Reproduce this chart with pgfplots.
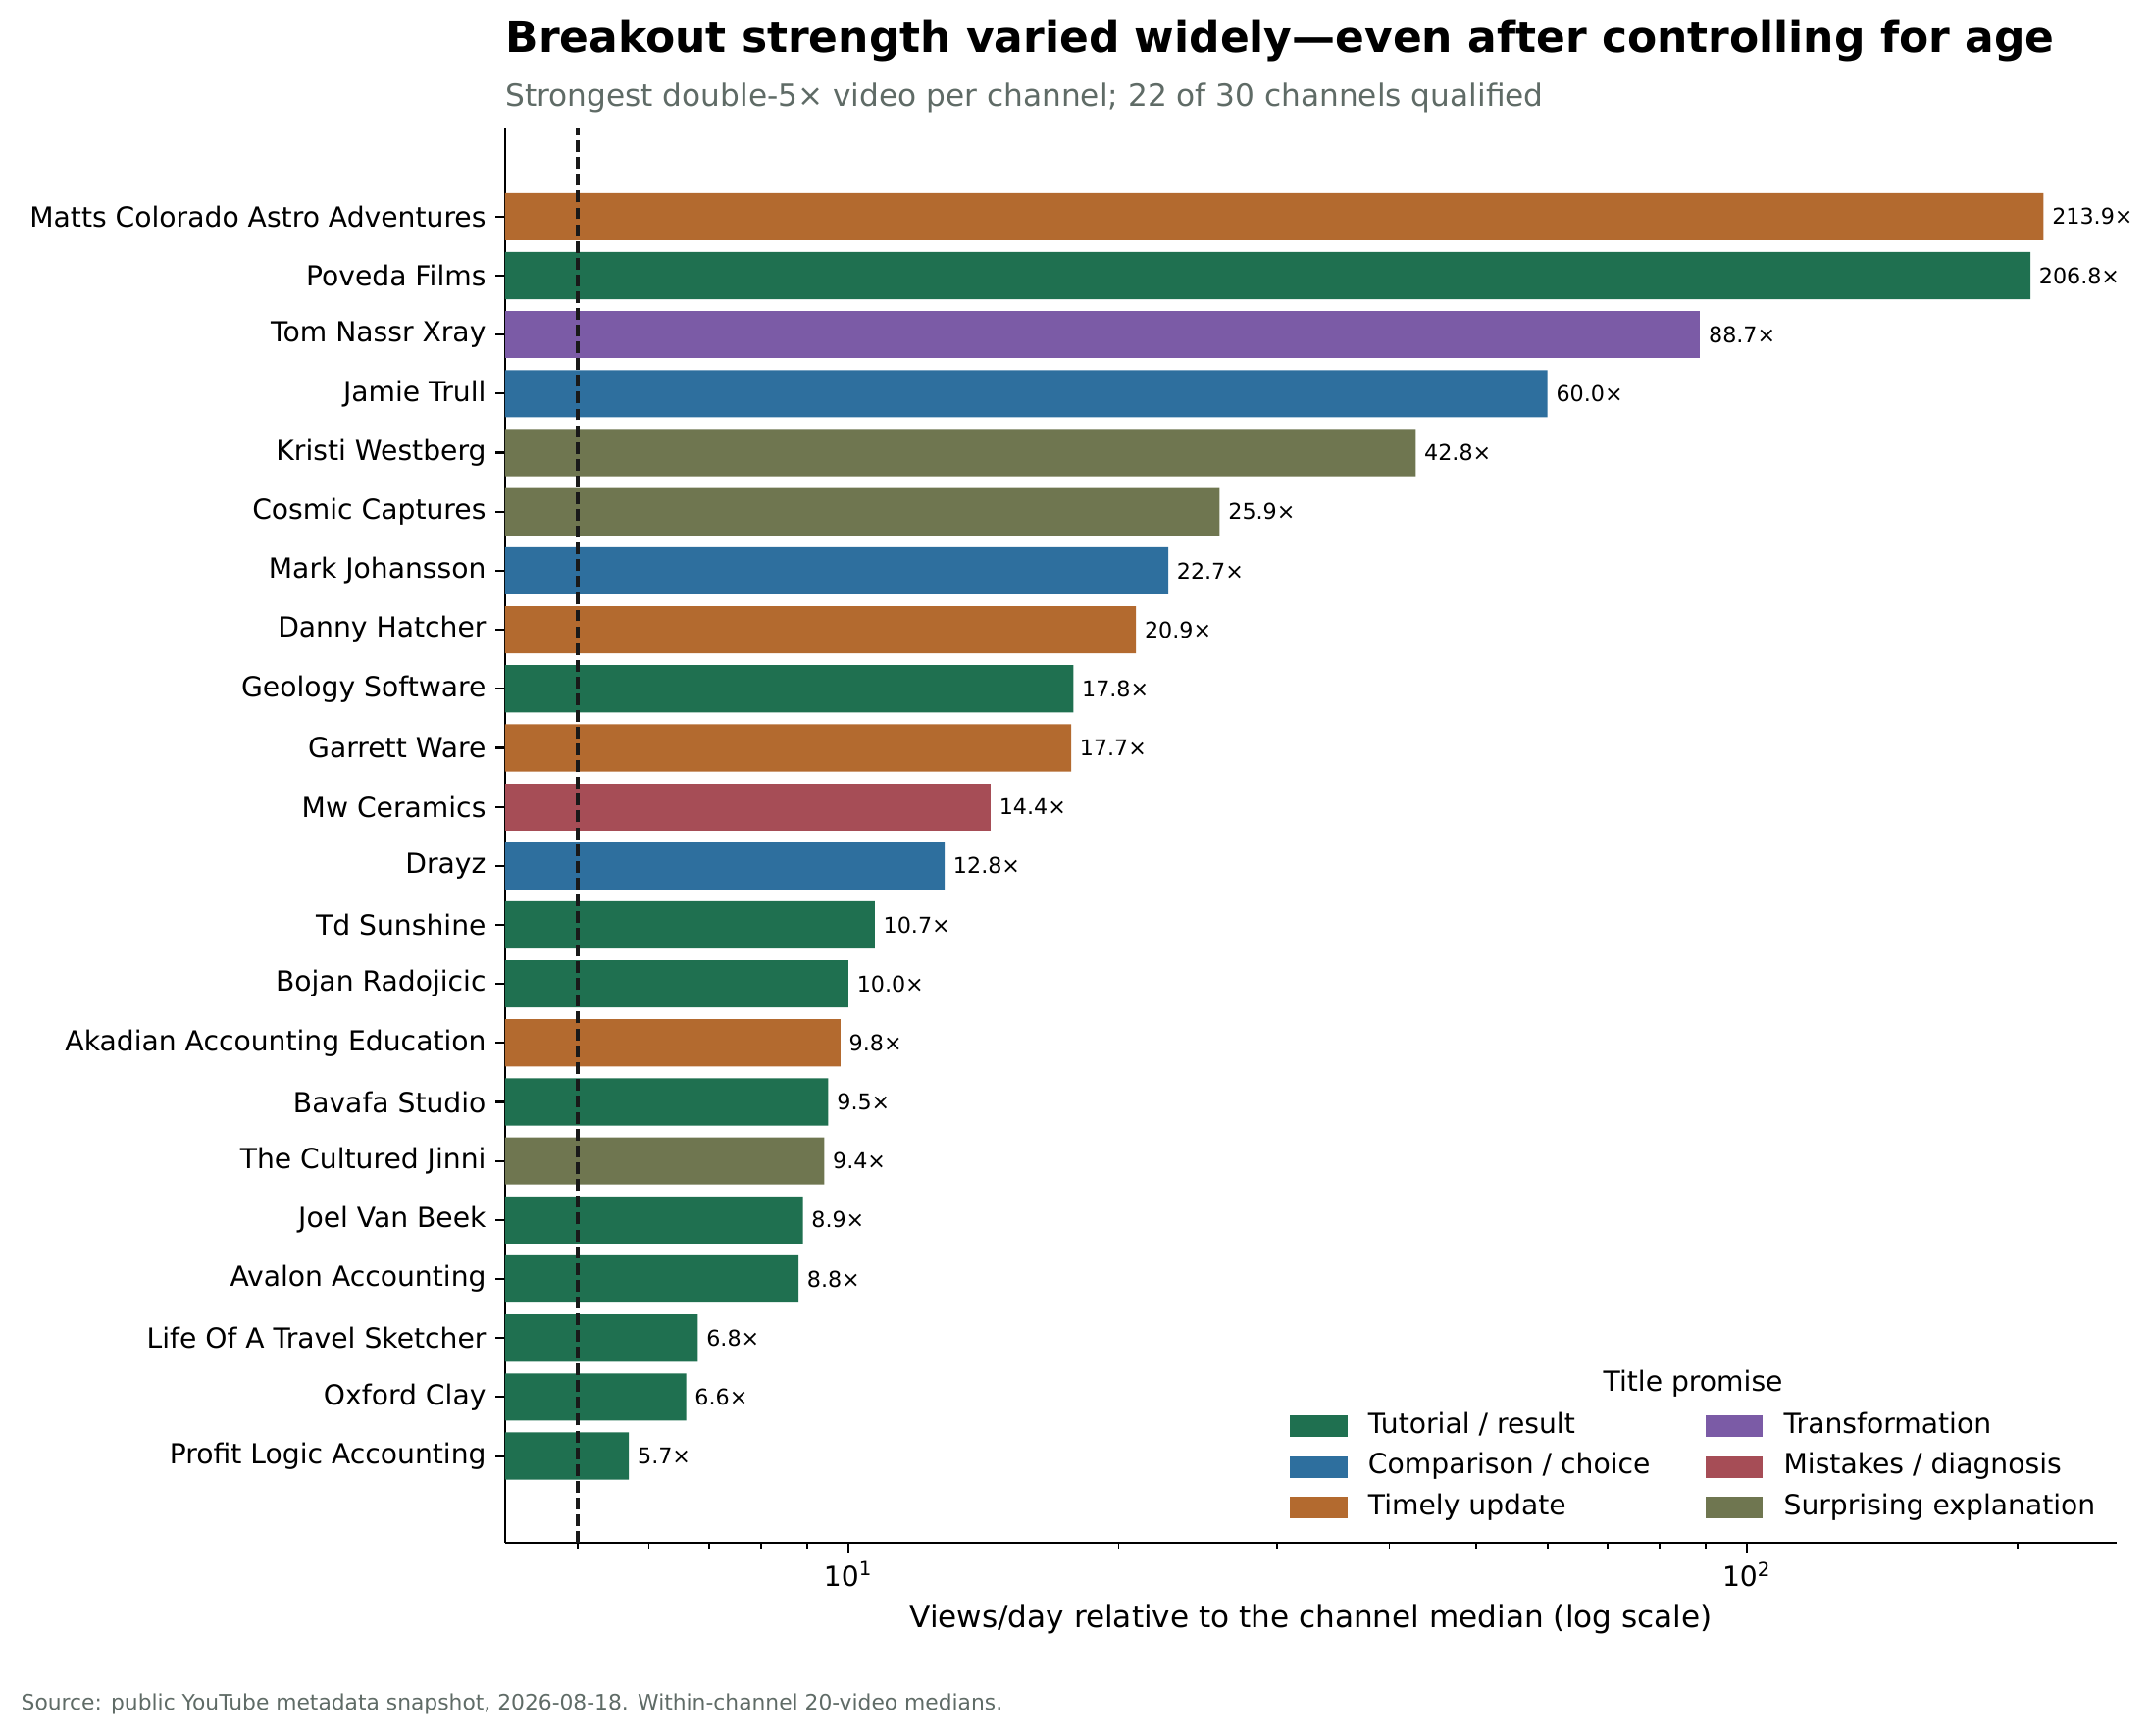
\documentclass[border=0pt]{standalone}
\usepackage{fontspec}
\setmainfont{DejaVu Sans}
\usepackage{pgfplots}
\pgfplotsset{compat=1.18}
\definecolor{cTut}{HTML}{1F7050}
\definecolor{cCmp}{HTML}{2E6F9E}
\definecolor{cTim}{HTML}{B36A2F}
\definecolor{cTra}{HTML}{7B5BA6}
\definecolor{cMis}{HTML}{A64D56}
\definecolor{cSur}{HTML}{6F7650}
\definecolor{subgray}{HTML}{5F6B66}
\pgfplotsset{
  patchlegend/.style={legend image code/.code={\path[fill=#1] (0pt,-3.95pt) rectangle (21.2pt,3.95pt);}},
  mybar/.style={xbar, bar width=0.8, bar shift=0pt, draw=none, fill=#1, patchlegend=#1,
    nodes near coords, point meta=explicit symbolic,
    every node near coord/.append style={font=\fontsize{8}{9.6}\selectfont, anchor=west, inner sep=0pt, xshift=3pt, text=black}},
}
\begin{document}
\begin{tikzpicture}
\useasboundingbox (-185.4pt,-70.6pt) rectangle (604.1pt,566.3pt);
\begin{axis}[
  scale only axis, width=591.5pt, height=519.5pt,
  at={(0pt,0pt)}, anchor=south west,
  xmode=log, log origin x=infty,
  xmin=4.15, xmax=258, ymin=-1.47, ymax=22.51,
  axis x line*=bottom, axis y line*=left,
  axis line style={line width=0.8pt, -},
  tick align=outside,
  major tick length=3.5pt, minor tick length=2pt,
  major tick style={black, line width=0.8pt},
  minor tick style={black, line width=0.6pt},
  xtick={10,100}, xticklabels={10\textsuperscript{1},10\textsuperscript{2}},
  minor xtick={5,6,7,8,9,20,30,40,50,60,70,80,90,200},
  ytick={0,...,21},
  yticklabels={Profit Logic Accounting, Oxford Clay, Life Of A Travel Sketcher, Avalon Accounting, Joel Van Beek, The Cultured Jinni, Bavafa Studio, Akadian Accounting Education, Bojan Radojicic, Td Sunshine, Drayz, Mw Ceramics, Garrett Ware, Geology Software, Danny Hatcher, Mark Johansson, Cosmic Captures, Kristi Westberg, Jamie Trull, Tom Nassr Xray, Poveda Films, Matts Colorado Astro Adventures},
  ticklabel style={font=\fontsize{10.15}{12}\selectfont},
  every axis x label/.style={at={(axis description cs:0.5,0)}, anchor=base, yshift=-31.3pt},
  xlabel={Views/day relative to the channel median (log scale)},
  xlabel style={font=\fontsize{11.2}{13}\selectfont},
  legend columns=2,
  legend cell align=left,
  legend style={
    at={(axis description cs:0.4869,0.0920)}, anchor=north west,
    draw=none, fill=none, inner sep=0pt, outer sep=0pt,
    row sep=4.95pt,
    font=\fontsize{10.15}{12}\selectfont,
    nodes={inner sep=0pt, text height=7.5pt, text depth=2.5pt},
    /tikz/every odd column/.append style={column sep=7.6pt},
    /tikz/every even column/.append style={column sep=20.2pt},
  },
  clip=false,
]
\addplot[mybar=cTut] coordinates {
  (206.8,20) [206.8×]
  (17.8,13) [17.8×]
  (10.7,9) [10.7×]
  (10.0,8) [10.0×]
  (9.5,6) [9.5×]
  (8.9,4) [8.9×]
  (8.8,3) [8.8×]
  (6.8,2) [6.8×]
  (6.6,1) [6.6×]
  (5.7,0) [5.7×]
};
\addlegendentry{Tutorial / result}
\addplot[mybar=cTra] coordinates {
  (88.7,19) [88.7×]
};
\addlegendentry{Transformation}
\addplot[mybar=cCmp] coordinates {
  (60.0,18) [60.0×]
  (22.7,15) [22.7×]
  (12.8,10) [12.8×]
};
\addlegendentry{Comparison / choice}
\addplot[mybar=cMis] coordinates {
  (14.4,11) [14.4×]
};
\addlegendentry{Mistakes / diagnosis}
\addplot[mybar=cTim] coordinates {
  (213.9,21) [213.9×]
  (20.9,14) [20.9×]
  (17.7,12) [17.7×]
  (9.8,7) [9.8×]
};
\addlegendentry{Timely update}
\addplot[mybar=cSur] coordinates {
  (42.8,17) [42.8×]
  (25.9,16) [25.9×]
  (9.4,5) [9.4×]
};
\addlegendentry{Surprising explanation}
\addplot[forget plot, black!90, line width=1.2pt, dash pattern=on 4.3pt off 1.85pt] coordinates {(5,-1.47) (5,22.51)};
\end{axis}
\node[anchor=base, inner sep=0pt, font=\fontsize{10.15}{12}\selectfont] at (436pt,55.8pt) {Title promise};
\node[anchor=base west, inner sep=0pt, font=\fontsize{15.83}{19}\selectfont\bfseries] at (0pt,547.2pt) {Breakout strength varied widely—even after controlling for age};
\node[anchor=base west, inner sep=0pt, font=\fontsize{11.23}{13}\selectfont, text=subgray] at (0pt,527.3pt) {Strongest double-5× video per channel; 22 of 30 channels qualified};
\node[anchor=base west, inner sep=0pt, font=\fontsize{7.85}{9.6}\selectfont, text=subgray] at (-177.8pt,-61.2pt) {Source: public YouTube metadata snapshot, 2026-08-18. Within-channel 20-video medians.};
\end{tikzpicture}
\end{document}
